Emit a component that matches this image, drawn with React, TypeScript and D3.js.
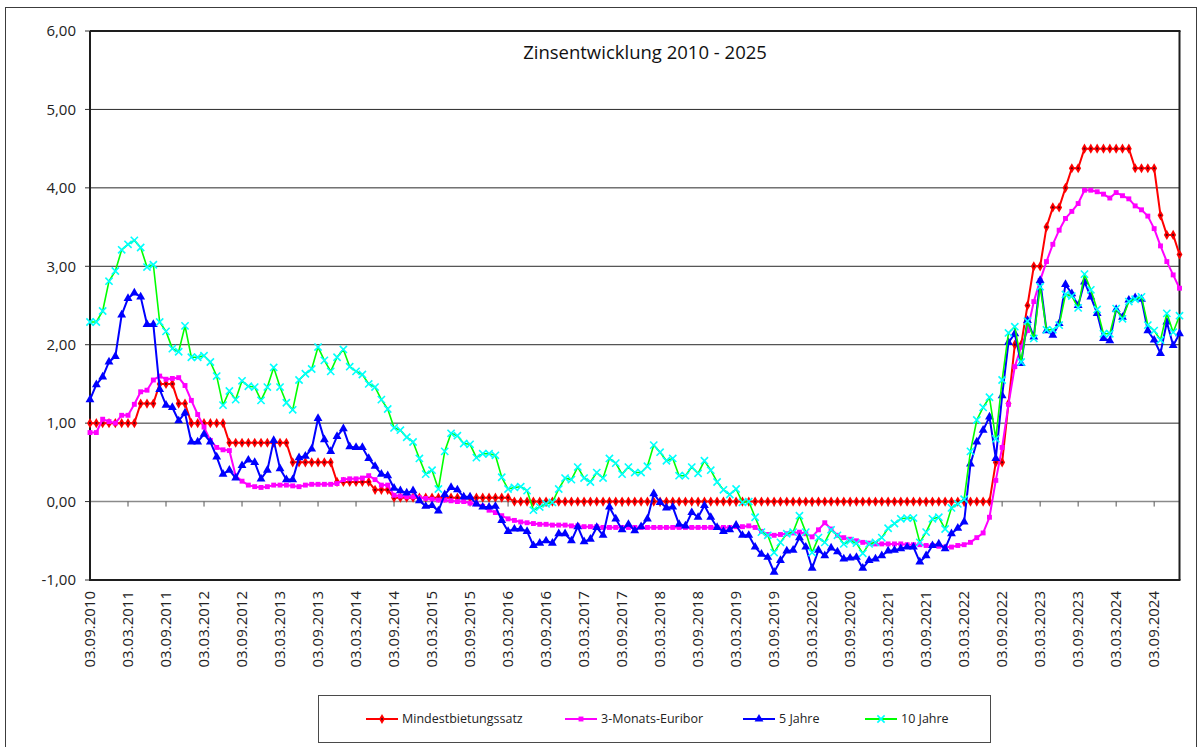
import React, { useEffect, useRef } from "react";
import * as d3 from "d3";

// tick labels on the category axis (every 6th month)
const tickLabels = [
  "03.09.2010", "03.03.2011", "03.09.2011", "03.03.2012", "03.09.2012", "03.03.2013",
  "03.09.2013", "03.03.2014", "03.09.2014", "03.03.2015", "03.09.2015", "03.03.2016",
  "03.09.2016", "03.03.2017", "03.09.2017", "03.03.2018", "03.09.2018", "03.03.2019",
  "03.09.2019", "03.03.2020", "03.09.2020", "03.03.2021", "03.09.2021", "03.03.2022",
  "03.09.2022", "03.03.2023", "03.09.2023", "03.03.2024", "03.09.2024",
];

const yTicks = [-1, 0, 1, 2, 3, 4, 5, 6];

// monthly values, 03.09.2010 .. 03.01.2025
const mindestbietungssatz = [
  1.00, 1.00, 1.00, 1.00, 1.00, 1.00, 1.00, 1.00, 1.25, 1.25,
  1.25, 1.50, 1.50, 1.50, 1.25, 1.25, 1.00, 1.00, 1.00, 1.00,
  1.00, 1.00, 0.75, 0.75, 0.75, 0.75, 0.75, 0.75, 0.75, 0.75,
  0.75, 0.75, 0.50, 0.50, 0.50, 0.50, 0.50, 0.50, 0.50, 0.25,
  0.25, 0.25, 0.25, 0.25, 0.25, 0.15, 0.15, 0.15, 0.05, 0.05,
  0.05, 0.05, 0.05, 0.05, 0.05, 0.05, 0.05, 0.05, 0.05, 0.05,
  0.05, 0.05, 0.05, 0.05, 0.05, 0.05, 0.05, 0.00, 0.00, 0.00,
  0.00, 0.00, 0.00, 0.00, 0.00, 0.00, 0.00, 0.00, 0.00, 0.00,
  0.00, 0.00, 0.00, 0.00, 0.00, 0.00, 0.00, 0.00, 0.00, 0.00,
  0.00, 0.00, 0.00, 0.00, 0.00, 0.00, 0.00, 0.00, 0.00, 0.00,
  0.00, 0.00, 0.00, 0.00, 0.00, 0.00, 0.00, 0.00, 0.00, 0.00,
  0.00, 0.00, 0.00, 0.00, 0.00, 0.00, 0.00, 0.00, 0.00, 0.00,
  0.00, 0.00, 0.00, 0.00, 0.00, 0.00, 0.00, 0.00, 0.00, 0.00,
  0.00, 0.00, 0.00, 0.00, 0.00, 0.00, 0.00, 0.00, 0.00, 0.00,
  0.00, 0.00, 0.00, 0.50, 0.50, 1.25, 2.00, 2.00, 2.50, 3.00,
  3.00, 3.50, 3.75, 3.75, 4.00, 4.25, 4.25, 4.50, 4.50, 4.50,
  4.50, 4.50, 4.50, 4.50, 4.50, 4.25, 4.25, 4.25, 4.25, 3.65,
  3.40, 3.40, 3.15,
];

const euribor3m = [
  0.88, 0.88, 1.05, 1.02, 1.00, 1.10, 1.10, 1.24, 1.40, 1.42,
  1.55, 1.60, 1.56, 1.57, 1.58, 1.48, 1.29, 1.11, 0.95, 0.78,
  0.69, 0.66, 0.65, 0.33, 0.26, 0.21, 0.19, 0.18, 0.19, 0.21,
  0.21, 0.21, 0.20, 0.19, 0.21, 0.22, 0.22, 0.22, 0.22, 0.23,
  0.28, 0.29, 0.29, 0.30, 0.33, 0.28, 0.21, 0.21, 0.08, 0.07,
  0.06, 0.06, 0.05, 0.04, 0.03, 0.02, 0.02, 0.01, 0.00, 0.00,
  -0.02, -0.03, -0.06, -0.11, -0.14, -0.18, -0.22, -0.24, -0.26, -0.27,
  -0.28, -0.29, -0.29, -0.30, -0.30, -0.30, -0.31, -0.31, -0.32, -0.32,
  -0.32, -0.33, -0.33, -0.33, -0.33, -0.33, -0.33, -0.33, -0.33, -0.33,
  -0.33, -0.33, -0.33, -0.33, -0.33, -0.33, -0.33, -0.33, -0.33, -0.33,
  -0.33, -0.33, -0.32, -0.32, -0.31, -0.33, -0.38, -0.42, -0.43, -0.42,
  -0.41, -0.40, -0.39, -0.41, -0.45, -0.36, -0.27, -0.35, -0.43, -0.46,
  -0.48, -0.50, -0.52, -0.53, -0.54, -0.54, -0.54, -0.54, -0.54, -0.55,
  -0.55, -0.55, -0.56, -0.56, -0.57, -0.58, -0.58, -0.56, -0.55, -0.52,
  -0.46, -0.40, -0.20, 0.27, 0.69, 1.24, 1.72, 1.97, 2.18, 2.55,
  2.82, 3.06, 3.28, 3.46, 3.61, 3.70, 3.80, 3.97, 3.97, 3.95,
  3.92, 3.87, 3.94, 3.90, 3.86, 3.77, 3.72, 3.64, 3.48, 3.26,
  3.06, 2.89, 2.72,
];

const jahre5 = [
  1.30, 1.49, 1.59, 1.78, 1.85, 2.38, 2.59, 2.66, 2.61, 2.26,
  2.26, 1.43, 1.23, 1.20, 1.03, 1.13, 0.76, 0.76, 0.86, 0.76,
  0.57, 0.35, 0.40, 0.30, 0.46, 0.53, 0.50, 0.29, 0.40, 0.78,
  0.42, 0.28, 0.28, 0.56, 0.58, 0.67, 1.06, 0.79, 0.64, 0.83,
  0.93, 0.70, 0.69, 0.69, 0.55, 0.45, 0.35, 0.33, 0.17, 0.14,
  0.11, 0.14, 0.01, -0.06, -0.05, -0.12, 0.09, 0.18, 0.15, 0.06,
  0.06, -0.03, -0.07, -0.07, -0.06, -0.24, -0.38, -0.35, -0.35, -0.38,
  -0.56, -0.53, -0.50, -0.53, -0.41, -0.41, -0.50, -0.32, -0.51, -0.48,
  -0.33, -0.43, -0.07, -0.22, -0.36, -0.29, -0.37, -0.32, -0.22, 0.10,
  -0.01, -0.08, -0.07, -0.29, -0.31, -0.14, -0.20, -0.05, -0.20, -0.33,
  -0.38, -0.36, -0.30, -0.43, -0.43, -0.58, -0.67, -0.71, -0.90, -0.75,
  -0.63, -0.62, -0.46, -0.58, -0.85, -0.62, -0.69, -0.59, -0.64, -0.73,
  -0.72, -0.71, -0.85, -0.75, -0.73, -0.69, -0.63, -0.62, -0.60, -0.58,
  -0.58, -0.77, -0.69, -0.56, -0.54, -0.60, -0.41, -0.34, -0.26, 0.48,
  0.76, 0.91, 1.08, 0.55, 1.35, 2.03, 2.14, 1.76, 2.31, 2.10,
  2.82, 2.18, 2.12, 2.27, 2.77, 2.65, 2.50, 2.80, 2.61, 2.40,
  2.08, 2.05, 2.45, 2.35, 2.57, 2.60, 2.58, 2.18, 2.06, 1.89,
  2.29, 1.99, 2.14,
];

const jahre10 = [
  2.29, 2.29, 2.43, 2.81, 2.94, 3.21, 3.28, 3.33, 3.24, 2.99,
  3.02, 2.29, 2.17, 1.95, 1.91, 2.24, 1.84, 1.84, 1.86, 1.78,
  1.60, 1.23, 1.41, 1.30, 1.54, 1.47, 1.46, 1.29, 1.46, 1.71,
  1.46, 1.26, 1.17, 1.55, 1.63, 1.69, 1.97, 1.80, 1.66, 1.84,
  1.94, 1.72, 1.66, 1.62, 1.50, 1.46, 1.30, 1.18, 0.94, 0.91,
  0.82, 0.76, 0.55, 0.35, 0.40, 0.16, 0.64, 0.87, 0.84, 0.74,
  0.73, 0.56, 0.61, 0.61, 0.59, 0.31, 0.16, 0.18, 0.19, 0.14,
  -0.11, -0.07, -0.03, -0.01, 0.16, 0.30, 0.28, 0.44, 0.30, 0.25,
  0.37, 0.30, 0.55, 0.49, 0.35, 0.44, 0.37, 0.37, 0.45, 0.72,
  0.63, 0.52, 0.55, 0.33, 0.33, 0.44, 0.36, 0.52, 0.40, 0.25,
  0.15, 0.09, 0.16, -0.01, 0.00, -0.20, -0.39, -0.43, -0.65, -0.52,
  -0.41, -0.39, -0.18, -0.39, -0.65, -0.46, -0.52, -0.36, -0.43, -0.54,
  -0.50, -0.53, -0.66, -0.54, -0.52, -0.46, -0.34, -0.28, -0.22, -0.21,
  -0.21, -0.52, -0.39, -0.22, -0.20, -0.35, -0.08, -0.03, 0.03, 0.64,
  1.04, 1.20, 1.33, 0.80, 1.55, 2.15, 2.23, 1.78, 2.30, 2.08,
  2.74, 2.19, 2.19, 2.25, 2.64, 2.62, 2.47, 2.90, 2.70, 2.45,
  2.14, 2.14, 2.46, 2.33, 2.55, 2.58, 2.61, 2.25, 2.18, 2.06,
  2.40, 2.16, 2.37,
];

type MarkerKind = "diamond" | "square" | "triangle" | "cross";

const seriesDefs: { name: string; values: number[]; color: string; marker: MarkerKind; legendX: number }[] = [
  { name: "Mindestbietungssatz", values: mindestbietungssatz, color: "#ff0000", marker: "diamond", legendX: 366 },
  { name: "3-Monats-Euribor", values: euribor3m, color: "#ff00ff", marker: "square", legendX: 565 },
  { name: "5 Jahre", values: jahre5, color: "#0000ff", marker: "triangle", legendX: 743 },
  { name: "10 Jahre", values: jahre10, color: "#00ff00", marker: "cross", legendX: 865 },
];

const fmt = (v: number) => v.toFixed(2).replace(".", ",");

const App = () => {
  const svgRef = useRef<SVGSVGElement | null>(null);

  useEffect(() => {
    if (!svgRef.current) return;
    const svg = d3.select(svgRef.current);
    svg.selectAll("*").remove();

    const plot = { left: 90, right: 1179.5, top: 31, bottom: 580 };
    const n = mindestbietungssatz.length;

    const x = d3.scaleLinear().domain([0, n - 1]).range([plot.left, plot.right]);
    const y = d3.scaleLinear().domain([-1, 6]).range([plot.bottom, plot.top]);

    // outer chart frame
    svg.append("rect")
      .attr("x", 5.5).attr("y", 7.5)
      .attr("width", 1191).attr("height", 760)
      .attr("fill", "#fff")
      .attr("stroke", "#3c3c3c");

    // title
    svg.append("text")
      .attr("x", 645).attr("y", 59)
      .attr("text-anchor", "middle")
      .style("font-size", "18.5px")
      .attr("fill", "#111")
      .text("Zinsentwicklung 2010 - 2025");

    // horizontal gridlines
    yTicks.filter(v => v > -1 && v < 6 && v !== 0).forEach(v => {
      svg.append("line")
        .attr("x1", plot.left).attr("x2", plot.right)
        .attr("y1", y(v)).attr("y2", y(v))
        .attr("stroke", "#2a2a2a").attr("stroke-width", 1);
    });

    // y axis ticks + labels
    yTicks.forEach(v => {
      svg.append("line")
        .attr("x1", plot.left - 5).attr("x2", plot.left)
        .attr("y1", y(v)).attr("y2", y(v))
        .attr("stroke", "#333");
      svg.append("text")
        .attr("x", 76).attr("y", y(v))
        .attr("dy", "0.35em")
        .attr("text-anchor", "end")
        .style("font-size", "15px")
        .attr("fill", "#222")
        .text(fmt(v));
    });

    // category axis sits on zero
    svg.append("line")
      .attr("x1", plot.left).attr("x2", plot.right)
      .attr("y1", y(0)).attr("y2", y(0))
      .attr("stroke", "#8a8a8a").attr("stroke-width", 1.5);

    tickLabels.forEach((label, i) => {
      const xi = x(i * 6);
      svg.append("line")
        .attr("x1", xi).attr("x2", xi)
        .attr("y1", y(0)).attr("y2", y(0) + 5)
        .attr("stroke", "#555");
      svg.append("text")
        .attr("transform", `translate(${xi},591) rotate(-90)`)
        .attr("dy", "0.35em")
        .attr("text-anchor", "end")
        .style("font-size", "15px")
        .attr("fill", "#222")
        .text(label);
    });

    // plot frame
    const frame = svg.append("g").attr("fill", "none").attr("stroke", "#1e1e1e").attr("stroke-width", 2);
    frame.append("line").attr("x1", plot.left).attr("x2", plot.right + 1).attr("y1", plot.top).attr("y2", plot.top);
    frame.append("line").attr("x1", plot.left).attr("x2", plot.right + 1).attr("y1", plot.bottom).attr("y2", plot.bottom);
    frame.append("line").attr("x1", plot.right).attr("x2", plot.right).attr("y1", plot.top).attr("y2", plot.bottom);
    frame.append("line").attr("x1", plot.left).attr("x2", plot.left).attr("y1", plot.top).attr("y2", plot.bottom + 1);

    const drawMarker = (g: d3.Selection<SVGGElement, unknown, null, undefined>, kind: MarkerKind, color: string, cx: number, cy: number) => {
      if (kind === "diamond") {
        g.append("path")
          .attr("d", d3.symbol().type(d3.symbolDiamond).size(30)())
          .attr("transform", `translate(${cx},${cy})`)
          .attr("fill", color);
        g.append("circle").attr("cx", cx).attr("cy", cy).attr("r", 1.1).attr("fill", "#5a0010");
      } else if (kind === "square") {
        g.append("path")
          .attr("d", d3.symbol().type(d3.symbolSquare).size(24)())
          .attr("transform", `translate(${cx},${cy})`)
          .attr("fill", color);
      } else if (kind === "triangle") {
        g.append("path")
          .attr("d", d3.symbol().type(d3.symbolTriangle).size(34)())
          .attr("transform", `translate(${cx},${cy})`)
          .attr("fill", color);
      } else {
        g.append("path")
          .attr("d", "M-3.6,-3.6L3.6,3.6M-3.6,3.6L3.6,-3.6")
          .attr("transform", `translate(${cx},${cy})`)
          .attr("fill", "none")
          .attr("stroke", "#00ffff")
          .attr("stroke-width", 1.6);
      }
    };

    const line = d3.line<number>()
      .x((_, i) => x(i))
      .y(d => y(d));

    seriesDefs.forEach(s => {
      const g = svg.append("g");
      g.append("path")
        .datum(s.values)
        .attr("fill", "none")
        .attr("stroke", s.color)
        .attr("stroke-width", s.marker === "cross" ? 1.6 : 2)
        .attr("stroke-linejoin", "round")
        .attr("d", line);
      s.values.forEach((v, i) => drawMarker(g, s.marker, s.color, x(i), y(v)));
    });

    // legend
    const legend = svg.append("g");
    legend.append("rect")
      .attr("x", 318.5).attr("y", 695.5)
      .attr("width", 672).attr("height", 47)
      .attr("fill", "#fff")
      .attr("stroke", "#4a4a4a");

    seriesDefs.forEach(s => {
      const ly = 719;
      legend.append("line")
        .attr("x1", s.legendX).attr("x2", s.legendX + 32)
        .attr("y1", ly).attr("y2", ly)
        .attr("stroke", s.color)
        .attr("stroke-width", 2);
      drawMarker(legend, s.marker, s.color, s.legendX + 16, ly);
      legend.append("text")
        .attr("x", s.legendX + 36).attr("y", ly)
        .attr("dy", "0.35em")
        .style("font-size", "12.5px")
        .attr("fill", "#222")
        .text(s.name);
    });
  }, []);

  return (
    <svg
      ref={svgRef}
      width={1198}
      height={747}
      style={{ position: "absolute", left: 0, top: 0, fontFamily: "'Open Sans', sans-serif", background: "#fff" }}
    />
  );
};

export default App;
